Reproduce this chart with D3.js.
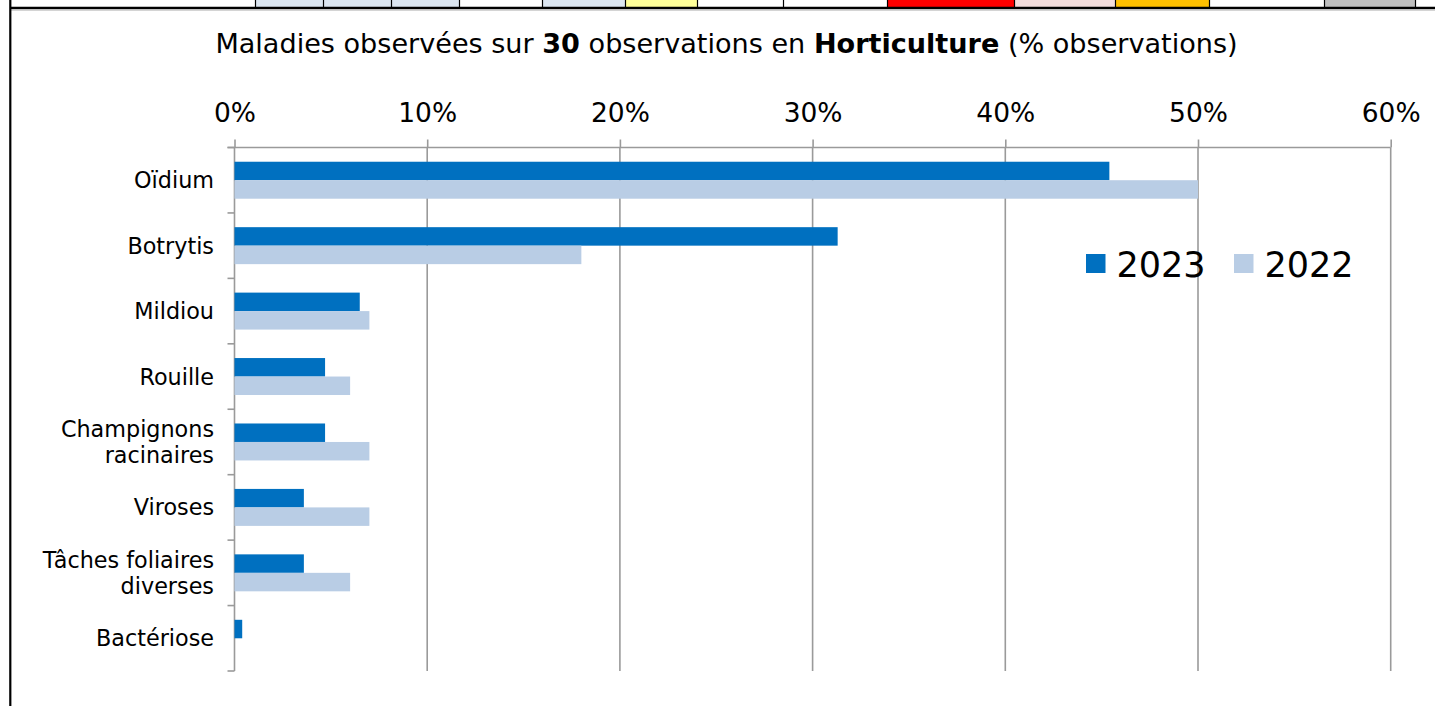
<!DOCTYPE html>
<html>
<head>
<meta charset="utf-8">
<script src="https://cdn.jsdelivr.net/npm/d3@7"></script>
<style>
  html, body { margin: 0; padding: 0; background: #fff; }
  svg { display: block; font-family: "DejaVu Sans", Verdana, sans-serif; }
</style>
</head>
<body>
<svg id="chart" width="1435" height="706"></svg>
<script>
// ---- data ----
const categories = ["Oïdium", "Botrytis", "Mildiou", "Rouille", "Champignons\nracinaires", "Viroses", "Tâches foliaires\ndiverses", "Bactériose"];
const series = ["2023", "2022"];
const values2023 = [45.4, 31.3, 6.5, 4.7, 4.7, 3.6, 3.6, 0.4];
const values2022 = [50.0, 18.0, 7.0, 6.0, 7.0, 7.0, 6.0, 0];
const xTicks = [0, 10, 20, 30, 40, 50, 60];
const seriesColors = ["#0070c0", "#b9cde5"];

// decorative strip of spreadsheet cells at the top of the image
const stripEdges = [0, 255, 323, 391, 459, 542, 625, 697, 783, 887, 1014, 1115, 1209, 1324, 1415, 1435];
const stripFills = ["#ffffff", "#dce6f1", "#dce6f1", "#dce6f1", "#ffffff", "#dce6f1", "#ffff99", "#ffffff", "#ffffff", "#ff0000", "#f2dcdb", "#ffc000", "#ffffff", "#c0c0c0", "#ffffff"];

(function () {
const svg = d3.select("#chart");

// ---- frame / strip ----
const strip = svg.append("g");
stripFills.forEach((f, i) => {
  strip.append("rect")
    .attr("x", stripEdges[i]).attr("y", 0)
    .attr("width", stripEdges[i + 1] - stripEdges[i]).attr("height", 8)
    .attr("fill", f);
});
stripEdges.slice(1, -1).forEach(e => {
  strip.append("line").attr("x1", e + 0.5).attr("x2", e + 0.5).attr("y1", 0).attr("y2", 8)
    .attr("stroke", "#000").attr("stroke-width", 1.2);
});
svg.append("line").attr("x1", 10).attr("x2", 1435).attr("y1", 8).attr("y2", 8)
  .attr("stroke", "#000").attr("stroke-width", 2.6);
svg.append("line").attr("x1", 11).attr("x2", 1435).attr("y1", 10.5).attr("y2", 10.5)
  .attr("stroke", "#d4d4d4").attr("stroke-width", 1);
svg.append("line").attr("x1", 10.3).attr("x2", 10.3).attr("y1", 0).attr("y2", 706)
  .attr("stroke", "#000").attr("stroke-width", 2.2);

// ---- scales ----
const pLeft = 234.5, pRight = 1390.7, pTop = 147.5, pBottom = 671;
const x = d3.scaleLinear().domain([0, 60]).range([pLeft, pRight]);
const y = d3.scaleBand().domain(categories).range([pTop, pBottom]).paddingInner(0).paddingOuter(0);
const ySub = d3.scaleBand().domain(series).range([0, y.bandwidth()]).paddingInner(0).paddingOuter(0.77);

const gridColor = "#9a9a9a";

// gridlines
svg.append("g").selectAll("line").data(xTicks.slice(1)).join("line")
  .attr("x1", d => x(d)).attr("x2", d => x(d))
  .attr("y1", pTop).attr("y2", pBottom)
  .attr("stroke", gridColor).attr("stroke-width", 1.6);

// top axis
const xAxis = svg.append("g").attr("transform", `translate(0,${pTop})`)
  .call(d3.axisTop(x).tickValues(xTicks).tickFormat(d => d + "%").tickSize(8).tickPadding(18).tickSizeOuter(0));
xAxis.select(".domain").remove();
xAxis.selectAll(".tick line").attr("stroke", gridColor).attr("stroke-width", 1.6);
xAxis.selectAll(".tick text").attr("font-size", 26.5).attr("fill", "#000")
  .attr("font-family", "'DejaVu Sans', Verdana, sans-serif");
svg.append("line").attr("x1", pLeft - 7).attr("x2", pRight).attr("y1", pTop).attr("y2", pTop)
  .attr("stroke", gridColor).attr("stroke-width", 1.6);

// category axis line and boundary ticks
svg.append("line").attr("x1", pLeft).attr("x2", pLeft).attr("y1", pTop).attr("y2", pBottom)
  .attr("stroke", gridColor).attr("stroke-width", 1.6);
const edges = categories.map(c => y(c)).concat([y(categories[categories.length - 1]) + y.bandwidth()]);
svg.append("g").selectAll("line").data(edges).join("line")
  .attr("x1", pLeft - 7).attr("x2", pLeft).attr("y1", d => d).attr("y2", d => d)
  .attr("stroke", gridColor).attr("stroke-width", 1.6);

// bars
const rows = categories.map((c, i) => ({ cat: c, vals: [values2023[i], values2022[i]] }));
const groups = svg.append("g").selectAll("g").data(rows).join("g")
  .attr("transform", d => `translate(0,${y(d.cat)})`);
groups.selectAll("rect").data(d => d.vals.map((v, j) => ({ s: series[j], v, j }))).join("rect")
  .attr("x", x(0))
  .attr("y", d => ySub(d.s))
  .attr("width", d => x(d.v) - x(0))
  .attr("height", ySub.bandwidth())
  .attr("fill", d => seriesColors[d.j]);

// category labels
const labels = svg.append("g").selectAll("text").data(categories).join("text")
  .attr("text-anchor", "end").attr("font-size", 22.3).attr("fill", "#000");
labels.each(function(d) {
  const lines = d.split("\n");
  const cy = y(d) + y.bandwidth() / 2;
  const lh = 25.5;
  const t = d3.select(this);
  lines.forEach((ln, k) => {
    t.append("tspan").attr("x", 214)
      .attr("y", cy + (k - (lines.length - 1) / 2) * lh)
      .attr("dy", "0.36em").text(ln);
  });
});

// legend
const legend = svg.append("g");
const legendX = [1086, 1234];
series.forEach((s, i) => {
  legend.append("rect").attr("x", legendX[i]).attr("y", 254).attr("width", 19.5).attr("height", 19)
    .attr("fill", seriesColors[i]);
  legend.append("text").attr("x", legendX[i] + 30.5).attr("y", 277)
    .attr("font-size", 35).attr("fill", "#000").text(s);
});

// title
const title = svg.append("text").attr("x", 726.5).attr("y", 52.5).attr("text-anchor", "middle")
  .attr("font-size", 24).attr("fill", "#000");
title.append("tspan").text("Maladies observées sur ");
title.append("tspan").attr("font-weight", "bold").text("30");
title.append("tspan").text(" observations en ");
title.append("tspan").attr("font-weight", "bold").text("Horticulture");
title.append("tspan").text(" (% observations)");
// fit title to its width in the reference
const tw = title.node().getComputedTextLength();
title.attr("font-size", 24 * 1023 / tw);
})();
</script>
</body>
</html>
